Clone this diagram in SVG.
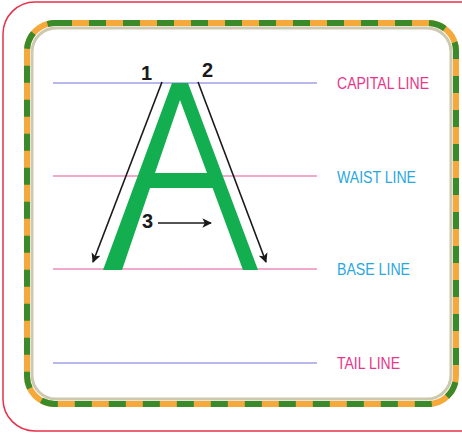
<svg xmlns="http://www.w3.org/2000/svg" width="462" height="433" viewBox="0 0 462 433">
<defs>
<style>
.lbl{font-family:"Liberation Sans",Arial,sans-serif;font-size:17px}
.num{font-family:"Liberation Sans",Arial,sans-serif;font-size:20px;font-weight:bold;fill:#1a1a1a}
.arr{stroke:#1a1a1a;stroke-width:1.6;fill:none;marker-end:url(#ah)}
</style>
<marker id="ah" viewBox="0 0 10 10" refX="9" refY="5" markerWidth="6" markerHeight="6" orient="auto" markerUnits="strokeWidth">
<path d="M0,0 L10,5 L0,10 L2.5,5 Z" fill="#1a1a1a"/>
</marker>
</defs>
<rect width="462" height="433" fill="#ffffff"/>
<g id="frame">
<rect x="3" y="2" width="490" height="429" rx="32" fill="none" stroke="#e8304a" stroke-width="1.5"/>
<rect x="32" y="28" width="419" height="371" rx="24" fill="none" stroke="#cdc8b0" stroke-width="3"/>
<rect x="27" y="23" width="429" height="381" rx="28" fill="none" stroke="#f5a93a" stroke-width="6"/>
<rect x="27" y="23" width="429" height="381" rx="28" fill="none" stroke="#3b8a2a" stroke-width="6" stroke-dasharray="17 17"/>
</g>
<g id="guides">
<line x1="53" y1="83" x2="317" y2="83" stroke="#7070d8" stroke-width="1"/>
<line x1="53" y1="176" x2="317" y2="176" stroke="#e8559a" stroke-width="1.2"/>
<line x1="53" y1="269" x2="317" y2="269" stroke="#e8559a" stroke-width="1.2"/>
<line x1="53" y1="363" x2="317" y2="363" stroke="#7070d8" stroke-width="1"/>
</g>
<g id="labels">
<text class="lbl" x="337" y="89" fill="#e8368a" textLength="92" lengthAdjust="spacingAndGlyphs">CAPITAL LINE</text>
<text class="lbl" x="337" y="183" fill="#29a8e0" textLength="79" lengthAdjust="spacingAndGlyphs">WAIST LINE</text>
<text class="lbl" x="337" y="275" fill="#29a8e0" textLength="73" lengthAdjust="spacingAndGlyphs">BASE LINE</text>
<text class="lbl" x="337" y="369" fill="#e8368a" textLength="63" lengthAdjust="spacingAndGlyphs">TAIL LINE</text>
</g>
<g id="letterA">
<path d="M172,83 L188,83 L258,270 L243,270 L212.6,188 L150,188 L122,270 L103,270 Z M180,100 L207,173 L155,173 Z" fill="#13ae4f" fill-rule="evenodd"/>
</g>
<g id="connectors">
<line class="arr" x1="162" y1="82" x2="93" y2="262"/>
<line class="arr" x1="198" y1="82" x2="266" y2="262"/>
<line class="arr" x1="158" y1="223" x2="211" y2="223"/>
</g>
<g id="numbers">
<text class="num" x="141" y="80">1</text>
<text class="num" x="202" y="77">2</text>
<text class="num" x="142" y="228">3</text>
</g>
</svg>
